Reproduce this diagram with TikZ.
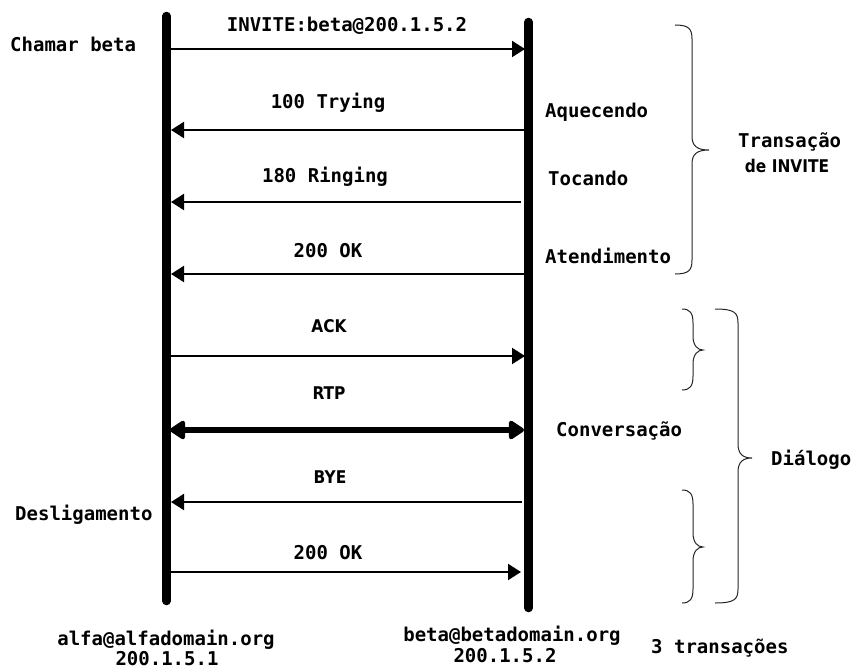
\documentclass[tikz,border=0pt]{standalone}
\usepackage{fontspec}
\usetikzlibrary{arrows.meta}
\newfontfamily\monofam{DejaVu Sans Mono}
\newfontfamily\sansfam[FakeStretch=0.88]{DejaVu Sans}

% curly brace opening to the left: ends x, spine x, tip x, top y, tip y, bottom y
\newcommand\curlybrace[6]{%
  \draw[bracepen] (#1,#4) .. controls (#2-3,#4) and (#2,#4+4) .. (#2,#4+14)
    -- (#2,#5-14) .. controls (#2,#5-4) and (#2+5,#5) .. (#3,#5)
    .. controls (#2+5,#5) and (#2,#5+4) .. (#2,#5+14)
    -- (#2,#6-14) .. controls (#2,#6-4) and (#2-3,#6) .. (#1,#6);}

\tikzset{
  mono/.style={font=\monofam\bfseries\fontsize{19}{22}\selectfont, inner sep=0pt},
  sanslabel/.style={font=\sansfam\bfseries\fontsize{17.5}{20}\selectfont, inner sep=0pt},
  lifeline/.style={line width=8.5pt, line cap=round},
  msg/.style={line width=2pt, -{Triangle[length=13pt,width=16pt]}},
  media/.style={line width=6.5pt, {Triangle[length=17pt,width=21pt,round]}-{Triangle[length=17pt,width=21pt,round]}},
  bracepen/.style={line width=1pt, black!85},
}

\begin{document}
\begin{tikzpicture}[x=1pt,y=-1pt]
\useasboundingbox[fill=white] (0,0) rectangle (853,669);

% lifelines
\coordinate (alfaTop) at (166.5,16);
\coordinate (alfaBot) at (166.5,601);
\coordinate (betaTop) at (528.5,22);
\coordinate (betaBot) at (528.5,608);
\draw[lifeline] (alfaTop) -- (alfaBot);
\draw[lifeline] (betaTop) -- (betaBot);

% message end points
\coordinate (inviteA) at (171,49);   \coordinate (inviteB) at (525,49);
\coordinate (tryingA) at (171,130);  \coordinate (tryingB) at (524,130);
\coordinate (ringA)   at (171,202);  \coordinate (ringB)   at (521,202);
\coordinate (okA)     at (171,274);  \coordinate (okB)     at (524,274);
\coordinate (ackA)    at (171,356);  \coordinate (ackB)    at (525,356);
\coordinate (rtpA)    at (170,430);  \coordinate (rtpB)    at (524,430);
\coordinate (byeA)    at (171,502);  \coordinate (byeB)    at (522,502);
\coordinate (okbA)    at (171,572);  \coordinate (okbB)    at (521,572);

\draw[msg] (inviteA) -- (inviteB);
\draw[msg] (tryingB) -- (tryingA);
\draw[msg] (ringB) -- (ringA);
\draw[msg] (okB) -- (okA);
\draw[msg] (ackA) -- (ackB);
\draw[media] (rtpA) -- (rtpB);
\draw[msg] (byeB) -- (byeA);
\draw[msg] (okbA) -- (okbB);

% message labels
\node[mono, anchor=base] (lInvite) at (347,32) {INVITE:beta@200.1.5.2};
\node[mono, anchor=base] (lTrying) at (328,108) {100 Trying};
\node[mono, anchor=base] (lRing)   at (325,182) {180 Ringing};
\node[mono, anchor=base] (lOk)     at (328,257) {200 OK};
\node[sanslabel, anchor=base] (lAck) at (329,332) {ACK};
\node[sanslabel, anchor=base] (lRtp) at (329,399) {RTP};
\node[sanslabel, anchor=base] (lBye) at (330,483) {BYE};
\node[mono, anchor=base] (lOkb)    at (328,559) {200 OK};

% side labels
\node[mono, anchor=base west] (chamar) at (10,52) {Chamar beta};
\node[mono, anchor=base west] (deslig) at (15,520) {Desligamento};
\node[mono, anchor=base west] (aquec)  at (545,117) {Aquecendo};
\node[mono, anchor=base west] (tocando) at (548,185) {Tocando};
\node[mono, anchor=base west] (atend)  at (545,263) {Atendimento};
\node[mono, anchor=base west] (conv)   at (556,436) {Conversação};

% braces and their labels
\curlybrace{675}{692}{709}{25}{150}{274}
\curlybrace{682}{693}{703}{309}{350}{390}
\curlybrace{682}{693}{703}{490}{547}{603}
\curlybrace{715}{738}{752}{309}{458}{603}
\node[mono, anchor=base west] (transacao) at (738,147) {Transação};
\node[sanslabel, anchor=base] (deInvite) at (787,172) {de INVITE};
\node[mono, anchor=base west] (dialogo) at (771,465) {Diálogo};

% endpoints
\node[mono, anchor=base] (alfaUri) at (166,645) {alfa@alfadomain.org};
\node[mono, anchor=base] (alfaIp)  at (167,665) {200.1.5.1};
\node[mono, anchor=base] (betaUri) at (512,641) {beta@betadomain.org};
\node[mono, anchor=base] (betaIp)  at (505,662) {200.1.5.2};
\node[mono, anchor=base west] (tres) at (651,653) {3 transações};
\end{tikzpicture}
\end{document}
